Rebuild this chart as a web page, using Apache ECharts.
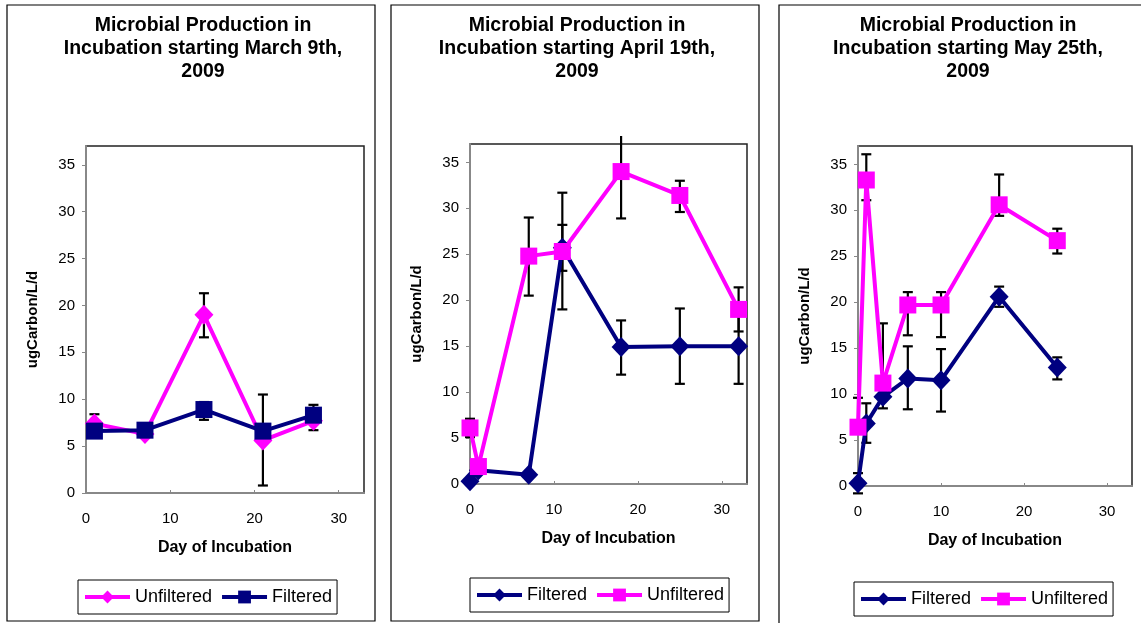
<!DOCTYPE html>
<html>
<head>
<meta charset="utf-8">
<script src="https://cdn.jsdelivr.net/npm/echarts@6/dist/echarts.min.js"></script>
<style>
html,body{margin:0;padding:0;background:#fff;}
#c{width:1141px;height:623px;}
</style>
</head>
<body>
<div id="c"></div>
<script>
// ---- Data ----
const titles = [
  'Microbial Production in\nIncubation starting March 9th,\n2009',
  'Microbial Production in\nIncubation starting April 19th,\n2009',
  'Microbial Production in\nIncubation starting May 25th,\n2009'
];
const xTicks = [0, 10, 20, 30];
const yTicks = [0, 5, 10, 15, 20, 25, 30, 35];

// Panel 1 (March 9th)
const p1Days = [1, 7, 14, 21, 27];
const p1Unfiltered = [7.4, 6.3, 19.0, 5.6, 7.7];
const p1UnfilteredErr = [[6.4, 8.4], null, [16.6, 21.3], [0.8, 10.5], null];
const p1Filtered = [6.6, 6.7, 8.9, 6.6, 8.3];
const p1FilteredErr = [null, null, [7.8, 9.7], null, [6.7, 9.4]];

// Panel 2 (April 19th)
const p2Days = [0, 1, 7, 11, 18, 25, 32];
const p2Filtered = [0.3, 1.5, 1.0, 25.7, 14.9, 15.0, 15.0];
const p2FilteredErr = [null, null, null, [23.2, 28.2], [11.9, 17.8], [10.9, 19.1], [10.9, 19.1]];
const p2Unfiltered = [6.1, 1.9, 24.8, 25.3, 34.0, 31.4, 19.0];
const p2UnfilteredErr = [[5.1, 7.1], null, [20.5, 29.0], [19.0, 31.7], [28.9, 39.1], [29.6, 33.0], [16.6, 21.4]];

// Panel 3 (May 25th)
const p3Days = [0, 1, 3, 6, 10, 17, 24];
const p3Filtered = [0.3, 6.8, 9.7, 11.7, 11.5, 20.6, 12.9];
const p3FilteredErr = [[-0.8, 1.4], [4.7, 9.0], [8.45, 11.0], [8.35, 15.2], [8.1, 14.9], [19.5, 21.7], [11.6, 14.0]];
const p3Unfiltered = [6.4, 33.3, 11.2, 19.7, 19.7, 30.6, 26.7];
const p3UnfilteredErr = [[6.4, 9.6], [31.1, 36.1], [11.2, 17.7], [16.4, 21.1], [16.2, 21.1], [29.4, 33.9], [25.3, 28.0]];

// ---- Styling ----
const PINK = '#FF00FF';
const NAVY = '#000080';
const FONT = '"Liberation Sans", Arial, sans-serif';

const grids = [
  {left: 86, top: 146, width: 278, height: 347},
  {left: 470, top: 144, width: 277, height: 340},
  {left: 858, top: 146, width: 274, height: 340}
];
const titleCenters = [198, 572, 963];
const legendPos = [{left: 78, top: 580}, {left: 470, top: 578}, {left: 854, top: 582}];
const panelRects = [
  {x: 7, y: 5, w: 368, h: 616},
  {x: 391, y: 5, w: 368, h: 616},
  {x: 779, y: 5, w: 380, h: 640}
];

function pts(days, vals) { return days.map((d, i) => [d, vals[i]]); }
function errs(days, e) {
  const out = [];
  days.forEach((d, i) => { if (e[i]) out.push([d, e[i][0], e[i][1]]); });
  return out;
}

function lineSeries(name, idx, days, vals, color, symbol) {
  return {
    type: 'line', name: name, xAxisIndex: idx, yAxisIndex: idx,
    data: pts(days, vals),
    symbol: symbol,
    symbolSize: symbol === 'rect' ? 17 : [19, 20],
    itemStyle: {color: color},
    lineStyle: {color: color, width: 4},
    z: 3, clip: false
  };
}

function errSeries(idx, days, e) {
  return {
    type: 'custom', xAxisIndex: idx, yAxisIndex: idx,
    data: errs(days, e), z: 2, silent: true,
    encode: {x: 0, y: [1, 2]},
    renderItem: function (params, api) {
      const x = api.value(0);
      const lo = api.coord([x, api.value(1)]);
      const hi = api.coord([x, api.value(2)]);
      const cs = params.coordSys;
      let yTop = hi[1], capTop = true;
      if (yTop < cs.y - 8) { yTop = cs.y - 8; capTop = false; }
      const hw = 5;
      const st = {stroke: '#000', lineWidth: 2.2};
      const ch = [
        {type: 'line', shape: {x1: lo[0], y1: lo[1], x2: lo[0], y2: yTop}, style: st},
        {type: 'line', shape: {x1: lo[0] - hw, y1: lo[1], x2: lo[0] + hw, y2: lo[1]}, style: st}
      ];
      if (capTop) ch.push({type: 'line', shape: {x1: hi[0] - hw, y1: yTop, x2: hi[0] + hw, y2: yTop}, style: st});
      return {type: 'group', children: ch};
    }
  };
}

const option = {
  animation: false,
  backgroundColor: '#fff',
  textStyle: {fontFamily: FONT},
  graphic: panelRects.map(r => ({
    type: 'rect', shape: {x: r.x, y: r.y, width: r.w, height: r.h},
    style: {fill: 'none', stroke: '#000', lineWidth: 1.2}, z: 0, silent: true
  })),
  title: titles.map((t, i) => ({
    text: t, left: titleCenters[i], top: 9, textAlign: 'center',
    textStyle: {fontFamily: FONT, fontWeight: 'bold', fontSize: 19.5, lineHeight: 23, color: '#000'}
  })),
  grid: grids.map(g => ({
    left: g.left, top: g.top, width: g.width, height: g.height,
    show: true, backgroundColor: '#fff', borderColor: '#222', borderWidth: 1.5, containLabel: false
  })),
  xAxis: grids.map((g, i) => ({
    type: 'value', gridIndex: i, min: 0, max: 33, interval: 10,
    name: 'Day of Incubation', nameLocation: 'middle', nameGap: 47,
    nameTextStyle: {fontFamily: FONT, fontWeight: 'bold', fontSize: 16, color: '#000'},
    axisLine: {show: true, lineStyle: {color: '#888', width: 2}},
    axisTick: {show: true, length: 3, inside: true, customValues: xTicks, lineStyle: {color: '#888'}},
    axisLabel: {customValues: xTicks, margin: 18, fontFamily: FONT, fontSize: 15, color: '#000'},
    splitLine: {show: false}
  })),
  yAxis: grids.map((g, i) => ({
    type: 'value', gridIndex: i, min: 0, max: 37, interval: 5,
    name: 'ugCarbon/L/d', nameLocation: 'middle', nameGap: 46,
    nameTextStyle: {fontFamily: FONT, fontWeight: 'bold', fontSize: 15, color: '#000'},
    axisLine: {show: true, lineStyle: {color: '#888', width: 2}},
    axisTick: {show: true, length: 4, customValues: yTicks, lineStyle: {color: '#888'}},
    axisLabel: {customValues: yTicks, margin: 11, fontFamily: FONT, fontSize: 15, color: '#000'},
    splitLine: {show: false}
  })),
  legend: [
    {data: ['Unfiltered', 'Filtered']},
    {data: ['Filtered ', 'Unfiltered ']},
    {data: ['Filtered  ', 'Unfiltered  ']}
  ].map((l, i) => Object.assign(l, {
    left: legendPos[i].left, top: legendPos[i].top, orient: 'horizontal',
    itemWidth: 45, itemHeight: 16, itemGap: 8,
    padding: [8, 5, 8, 5],
    borderColor: '#000', borderWidth: 1, backgroundColor: '#fff',
    lineStyle: {width: 4},
    formatter: n => n.trim(),
    textStyle: {fontFamily: FONT, fontSize: 18, color: '#000'},
    selectedMode: false
  })),
  series: [
    errSeries(0, p1Days, p1UnfilteredErr),
    errSeries(0, p1Days, p1FilteredErr),
    lineSeries('Unfiltered', 0, p1Days, p1Unfiltered, PINK, 'diamond'),
    lineSeries('Filtered', 0, p1Days, p1Filtered, NAVY, 'rect'),

    errSeries(1, p2Days, p2FilteredErr),
    errSeries(1, p2Days, p2UnfilteredErr),
    lineSeries('Filtered ', 1, p2Days, p2Filtered, NAVY, 'diamond'),
    lineSeries('Unfiltered ', 1, p2Days, p2Unfiltered, PINK, 'rect'),

    errSeries(2, p3Days, p3FilteredErr),
    errSeries(2, p3Days, p3UnfilteredErr),
    lineSeries('Filtered  ', 2, p3Days, p3Filtered, NAVY, 'diamond'),
    lineSeries('Unfiltered  ', 2, p3Days, p3Unfiltered, PINK, 'rect')
  ]
};

const chart = echarts.init(document.getElementById('c'), null, {renderer: 'canvas'});
chart.setOption(option);
</script>
</body>
</html>
